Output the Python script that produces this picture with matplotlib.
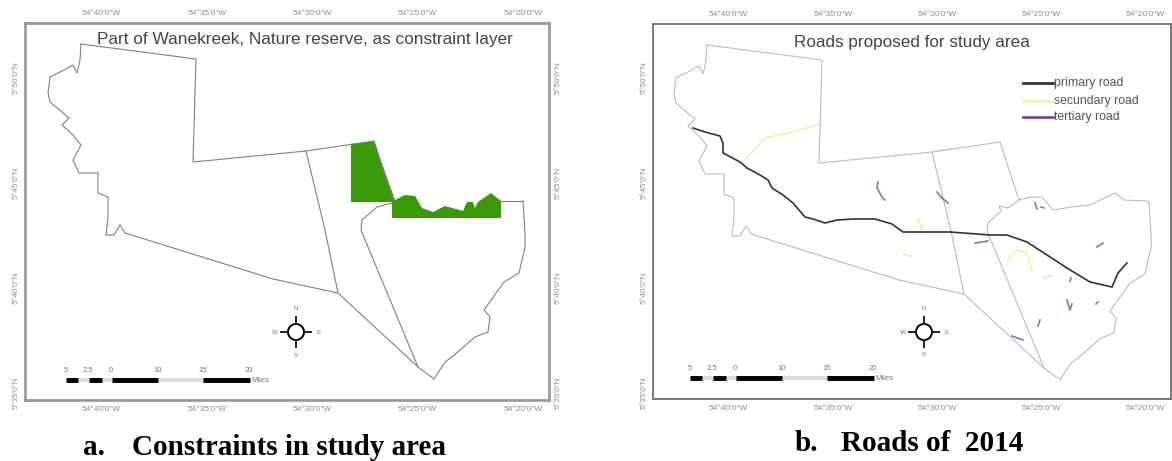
#!/usr/bin/env python3
"""
Two map panels: constraint layer and roads of the study area
"""
import numpy as np
from matplotlib import pyplot as plt

W, H = 1172, 461

# map outlines (image pixels)
north_x = [81, 196, 193, 306, 374, 393]
north_y = [44, 59, 162, 151, 141, 199]
wave_x = [393, 405, 416, 427, 446, 464, 489, 498, 520, 523]
wave_y = [199, 196, 196, 209, 206, 204, 192, 199, 200, 201]
south_x = [523, 525, 525, 519, 504, 484, 490, 488, 475, 452, 445, 434, 418, 338, 273, 125, 120, 114, 106, 108, 108, 98, 98, 79, 73, 81, 73, 62, 69, 50, 48, 50, 64, 73, 77, 80, 81]
south_y = [201, 233, 247, 273, 282, 310, 317, 332, 337, 357, 362, 379, 367, 293, 279, 233, 225, 235, 235, 217, 197, 193, 173, 173, 160, 145, 135, 125, 118, 102, 93, 77, 70, 65, 73, 60, 44]
flat_x = [501, 523]
flat_y = [201, 201]
inner1_x = [306, 325, 338]
inner1_y = [151, 230, 293]
inner2a_x = [392, 377, 362, 361, 418]
inner2a_y = [203, 207, 220, 230, 367]
inner2b_x = [393, 382, 373, 375, 362, 361, 418]
inner2b_y = [199, 207, 205, 210, 222, 230, 367]

# nature reserve
reserve_x = [351, 374, 395, 405, 415, 422, 433, 445, 463, 467, 473, 475, 478, 491, 501, 501, 392, 392, 351]
reserve_y = [144, 141, 200, 195, 196, 208, 212, 206, 211, 202, 202, 208, 202, 193, 201, 218, 218, 202, 202]

# roads (image pixels)
primary_x = [693, 705, 720, 723, 723, 740, 747, 760, 768, 772, 783, 793, 805, 813, 825, 837, 853, 875, 892, 903, 927, 950, 977, 990, 1007, 1027, 1047, 1067, 1090, 1112, 1118, 1127]
primary_y = [128, 132, 136, 143, 153, 162, 168, 175, 180, 188, 195, 203, 217, 219, 223, 220, 219, 219, 224, 232, 232, 232, 234, 235, 235, 242, 255, 268, 282, 287, 273, 263]
secondary = [
    ([743, 752, 765, 793, 817], [162, 152, 138, 132, 125]),
    ([918, 922], [219, 229]),
    ([903, 911], [254, 256]),
    ([1007, 1017, 1027, 1032], [262, 250, 253, 270]),
    ([1043, 1051], [278, 276]),
]
tertiary = [
    ([878, 877, 882, 885], [182, 188, 197, 200]),
    ([937, 942, 948], [192, 198, 203]),
    ([975, 988], [243, 241]),
    ([1035, 1037], [203, 209]),
    ([1041, 1044], [207, 208]),
    ([1097, 1103], [247, 243]),
    ([1067, 1070, 1072], [300, 310, 304]),
    ([1070, 1071], [281, 278]),
    ([1096, 1098], [304, 302]),
    ([1012, 1023], [336, 340]),
    ([1038, 1040], [326, 320]),
]

# graticule labels
lon_labels = ['54°40\'0"W', '54°35\'0"W', '54°30\'0"W', '54°25\'0"W', '54°20\'0"W']
lat_labels = ['5°50\'0"N', '5°45\'0"N', '5°40\'0"N', '5°35\'0"N']
lat_ticks = [78, 183, 288, 393]
lon_ticks_a = [101, 207, 312, 417, 523]
lon_ticks_b = [728, 833, 937, 1041, 1145]

# scale bar
scale_labels = ['5', '2.5', '0', '10', '15', '20']
scale_edges = [66, 78, 89, 102, 112, 158, 203, 250]
scale_ticks = [66, 88, 111, 158, 203, 249]

legend_names = ['primary road', 'secundary road', 'tertiary road']
PRIMARY, SECONDARY, TERTIARY = '#333333', '#eff4a8', '#7a45b0'


def panel(left, right, top, bottom, edge, lw):
    ax = plt.axes([left / W, 1 - bottom / H, (right - left) / W, (bottom - top) / H])
    ax.set_xlim(left, right)
    ax.set_ylim(bottom, top)
    for s in ax.spines.values():
        s.set_color(edge)
        s.set_linewidth(lw)
    return ax


def graticule(ax, lon_ticks, right_labels):
    ax.set_xticks(lon_ticks, lon_labels)
    ax.set_yticks(lat_ticks, lat_labels, rotation=90, va='center')
    ax.tick_params(length=0, labelsize=6, labelcolor='#8c8c8c', top=True, labeltop=True,
                   right=right_labels, labelright=right_labels, pad=4)


def extras(ax, scale_dx, scale_dy, compass_dx):
    # scale bar
    e = np.array(scale_edges) + scale_dx
    y = 380 + scale_dy
    ax.plot([e[0], e[-1]], [y, y], color='#dddddd', lw=3, solid_capstyle='butt')
    for a, b in zip(e[:-1:2], e[1::2]):
        ax.plot([a, b], [y, y], color='black', lw=3.5, solid_capstyle='butt')
    for t, s in zip(scale_ticks, scale_labels):
        ax.text(t + scale_dx, y - 10, s, fontsize=5.5, color='#777777', ha='center', va='center')
    ax.text(e[-1] + 1, y, 'Miles', fontsize=5.5, color='#777777', va='center')

    # north arrow
    cx, cy = 296 + compass_dx, 332
    t = np.linspace(0, 2 * np.pi, 60)
    ax.plot(cx + 8 * np.cos(t), cy + 8 * np.sin(t), color='black', lw=1.4)
    for ux, uy in [(0, 1), (0, -1), (1, 0), (-1, 0)]:
        ax.plot([cx + 8 * ux, cx + 15 * ux], [cy + 8 * uy, cy + 15 * uy], color='#222222', lw=1.4)
    for s, ux, uy in [('N', 0, -24), ('S', 0, 23), ('E', 23, 0), ('W', -21, 0)]:
        ax.text(cx + ux, cy + uy, s, fontsize=4.5, color='#777777', ha='center', va='center')


def outline(ax, parts, dx, dy, color, lw):
    for xs, ys in parts:
        ax.plot(np.array(xs) + dx, np.array(ys) + dy, color=color, lw=lw)


def caption(fig, x1, x2, y, tag, text):
    for x, s in [(x1, tag), (x2, text)]:
        fig.text(x / W, 1 - y / H, s, family='Liberation Serif', weight='bold', fontsize=21,
                 va='center')


if __name__ == '__main__':
    plt.rcParams['font.family'] = ['Liberation Sans', 'DejaVu Sans']
    fig = plt.figure(figsize=(W / 100, H / 100), dpi=100)

    # left panel
    ax = panel(25, 549, 23, 400, '#9a9a9a', 2)
    graticule(ax, lon_ticks_a, True)
    outline(ax, [(north_x, north_y), (flat_x, flat_y), (south_x, south_y), (inner1_x, inner1_y),
                 (inner2a_x, inner2a_y)], 0, 0, '#808080', 0.8)
    ax.fill(reserve_x, reserve_y, color='#3c9a0a', lw=0)
    extras(ax, 0, 0, 0)
    ax.text(305, 39, 'Part of Wanekreek, Nature reserve, as constraint layer',
            fontsize=12.4, color='#444444', ha='center', va='center')

    # right panel
    ax = panel(653, 1171, 24, 399, '#777777', 1.4)
    graticule(ax, lon_ticks_b, False)
    outline(ax, [(north_x, north_y), (wave_x, wave_y), (south_x, south_y), (inner1_x, inner1_y),
                 (inner2b_x, inner2b_y)], 626, 1, '#bbbbbb', 0.8)
    for xs, ys in secondary:
        ax.plot(xs, ys, color=SECONDARY, lw=1.4)
    for xs, ys in tertiary:
        ax.plot(xs, ys, color=TERTIARY, lw=1.2, alpha=0.8)
    ax.plot(primary_x, primary_y, color=PRIMARY, lw=1.2)
    extras(ax, 624, -2, 628)
    ax.text(912, 42, 'Roads proposed for study area', fontsize=12.3, color='#444444',
            ha='center', va='center')
    for y, col, name in zip([83, 101, 117], [PRIMARY, SECONDARY, TERTIARY], legend_names):
        ax.plot([1023, 1053], [y, y], color=col, lw=2)
        ax.text(1054, y, name, fontsize=8.8, color='#555555', va='center')

    # captions
    caption(fig, 83, 132, 447, 'a.', 'Constraints in study area')
    caption(fig, 795, 841, 443, 'b.', 'Roads of  2014')

    fig.savefig('out.png', dpi=100)
